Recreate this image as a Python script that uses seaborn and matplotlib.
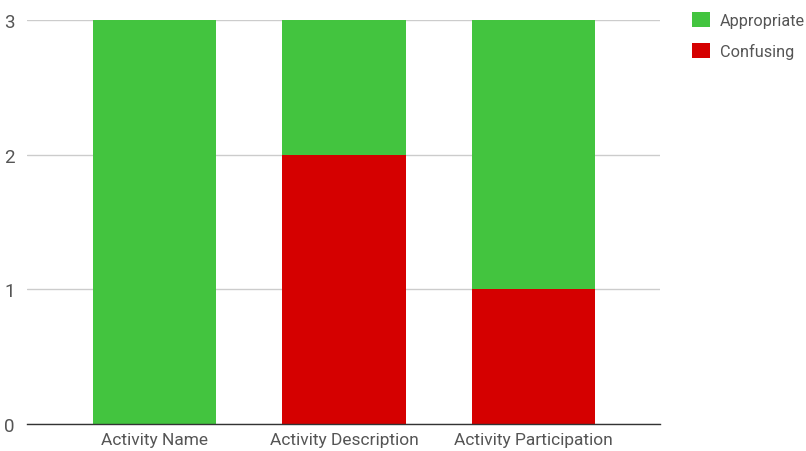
import matplotlib
matplotlib.use("Agg")
import matplotlib.pyplot as plt
import seaborn as sns
import pandas as pd
import numpy as np
from matplotlib.patches import Patch

categories = ["Activity Name", "Activity Description", "Activity Participation"]
appropriate = [3, 1, 2]
confusing = [0, 2, 1]
yticks = [0, 1, 2, 3]

GREEN = "#43C43F"
RED = "#D50000"

sns.set_theme(style="white")
plt.rcParams['font.family'] = ['Roboto', 'DejaVu Sans']

df = pd.DataFrame({
    "category": categories,
    "total": np.array(appropriate) + np.array(confusing),
    "confusing": confusing,
})

fig = plt.figure(figsize=(8.06, 4.52), dpi=100)
ax = fig.add_axes([27/806, 1-425/452, (660-27)/806, (425-21)/452])

sns.barplot(data=df, x="category", y="total", color=GREEN, saturation=1,
            width=0.65, ax=ax, linewidth=0, zorder=3)
sns.barplot(data=df, x="category", y="confusing", color=RED, saturation=1,
            width=0.65, ax=ax, linewidth=0, zorder=3)

ax.set_xlim(-0.673, 2.667)
ax.set_ylim(0, 3)
ax.set_yticks(yticks)
ax.set_yticklabels([str(v) for v in yticks])
ax.grid(axis="y", color="#CCCCCC", linewidth=1, zorder=0)
ax.set_axisbelow(True)
for s in ["top", "right", "left"]:
    ax.spines[s].set_visible(False)
ax.spines["bottom"].set_color("#333333")
ax.spines["bottom"].set_linewidth(1)
ax.spines["bottom"].set_zorder(4)
ax.set_xlabel("")
ax.set_ylabel("")
ax.tick_params(axis="y", length=0, pad=9, labelsize=13.5, labelcolor="#555555")
ax.tick_params(axis="x", length=0, pad=6, labelsize=12.5, labelcolor="#555555")

handles = [Patch(facecolor=GREEN, edgecolor="none", label="Appropriate"),
           Patch(facecolor=RED, edgecolor="none", label="Confusing")]
fig.legend(handles=handles, loc="upper left", bbox_to_anchor=(677/806, 1+2/452),
           frameon=False, fontsize=11.7, handlelength=1.1, handleheight=1.1,
           handletextpad=0.65, labelspacing=0.9, labelcolor="#555555")

fig.savefig("out.png", dpi=100)
